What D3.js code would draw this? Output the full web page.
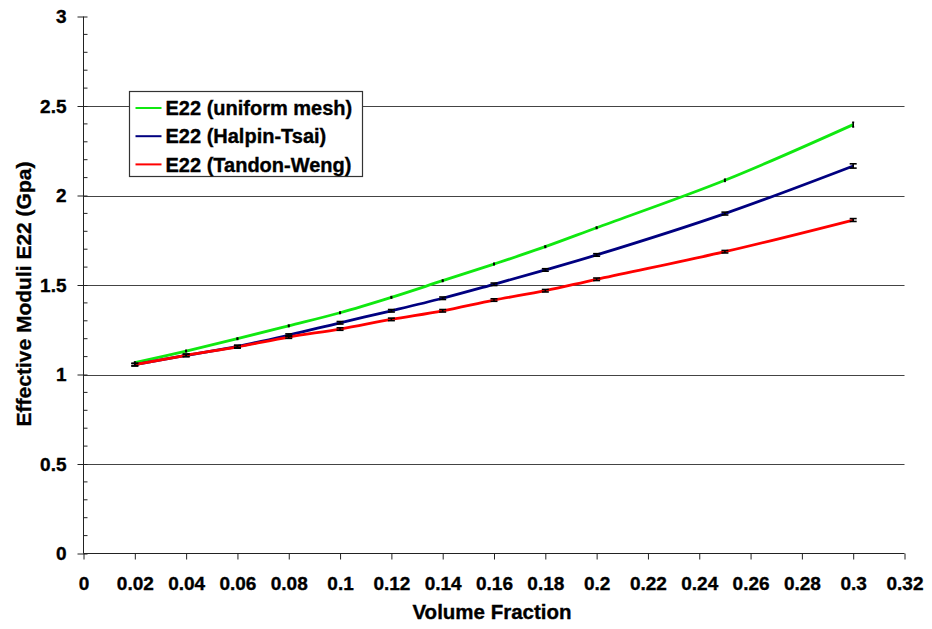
<!DOCTYPE html>
<html>
<head>
<meta charset="utf-8">
<script src="https://cdn.jsdelivr.net/npm/d3@7"></script>
<style>
  body { margin: 0; background: #fff; }
  svg text { font-family: "Liberation Sans", Arial, sans-serif; font-weight: bold; fill: #000;
             stroke: #000; stroke-width: 0.35px; }
</style>
</head>
<body>
<svg id="chart" width="932" height="629"></svg>
<script>
// Volume fraction of reinforcement
const volumeFraction = [0.02, 0.04, 0.06, 0.08, 0.1, 0.12, 0.14, 0.16, 0.18, 0.2, 0.25, 0.3];

// Effective transverse modulus E22 (GPa)
const e22Uniform = [1.066, 1.131, 1.200, 1.272, 1.345, 1.431, 1.524, 1.617, 1.714, 1.820, 2.085, 2.396];
const e22Halpin  = [1.055, 1.107, 1.157, 1.220, 1.289, 1.356, 1.426, 1.504, 1.584, 1.668, 1.899, 2.165];
const e22Tandon  = [1.055, 1.107, 1.154, 1.209, 1.254, 1.308, 1.356, 1.416, 1.468, 1.532, 1.686, 1.863];

// Error bar half-widths
const errUniform = [0.004, 0.004, 0.004, 0.004, 0.004, 0.004, 0.004, 0.004, 0.004, 0.004, 0.006, 0.013];
const errHalpin  = [0.007, 0.007, 0.007, 0.007, 0.007, 0.007, 0.007, 0.007, 0.007, 0.007, 0.008, 0.012];
const errTandon  = [0.007, 0.007, 0.007, 0.007, 0.007, 0.007, 0.007, 0.007, 0.007, 0.007, 0.007, 0.008];

const seriesNames = ["E22 (uniform mesh)", "E22 (Halpin-Tsai)", "E22 (Tandon-Weng)"];

const xTicks = [0, 0.02, 0.04, 0.06, 0.08, 0.1, 0.12, 0.14, 0.16, 0.18, 0.2, 0.22, 0.24, 0.26, 0.28, 0.3, 0.32];
const xTickLabels = ["0", "0.02", "0.04", "0.06", "0.08", "0.1", "0.12", "0.14", "0.16", "0.18", "0.2", "0.22", "0.24", "0.26", "0.28", "0.3", "0.32"];
const yTicks = [0, 0.5, 1, 1.5, 2, 2.5, 3];
const yTickLabels = ["0", "0.5", "1", "1.5", "2", "2.5", "3"];
const yMinorTicks = d3.range(0, 31).map(i => i / 10).filter(v => !yTicks.some(t => Math.abs(t - v) < 1e-9));

const series = [
  { name: seriesNames[0], values: e22Uniform, err: errUniform, color: "#10e810", cap: 1 },
  { name: seriesNames[1], values: e22Halpin,  err: errHalpin,  color: "#000080", cap: 3.5 },
  { name: seriesNames[2], values: e22Tandon,  err: errTandon,  color: "#ff0000", cap: 3.5 }
];

const svg = d3.select("#chart");

const x = d3.scaleLinear().domain([0, 0.32]).range([83.5, 904.5]);
const y = d3.scaleLinear().domain([0, 3]).range([553.5, 16.5]);

// Horizontal gridlines
svg.append("g")
  .selectAll("line")
  .data(yTicks.filter(v => v > 0 && v < 3))
  .join("line")
  .attr("x1", x(0)).attr("x2", x(0.32))
  .attr("y1", d => Math.round(y(d)) + 0.5).attr("y2", d => Math.round(y(d)) + 0.5)
  .attr("stroke", "#444").attr("stroke-width", 1.2);

// Y axis
const yAxis = svg.append("g")
  .attr("transform", `translate(${x(0)},0)`)
  .call(d3.axisLeft(y).tickValues(yTicks).tickFormat((d, i) => yTickLabels[i]).tickSize(6).tickPadding(11));
yAxis.selectAll(".tick line").attr("x2", -6).attr("x1", 4);
yAxis.select(".domain").attr("d", `M0,${y(3)}V${y(0)}`);
yAxis.selectAll(".tick text").style("font-size", "19px");
yAxis.append("g")
  .selectAll("line")
  .data(yMinorTicks)
  .join("line")
  .attr("x1", 0).attr("x2", 4)
  .attr("y1", d => y(d)).attr("y2", d => y(d))
  .attr("stroke", "#222");
yAxis.selectAll("path, line").attr("stroke", "#222");

// X axis
const xAxis = svg.append("g")
  .attr("transform", `translate(0,${y(0)})`)
  .call(d3.axisBottom(x).tickValues(xTicks).tickFormat((d, i) => xTickLabels[i]).tickSize(6).tickPadding(17));
xAxis.select(".domain").attr("d", `M${x(0)},0H${x(0.32)}`);
xAxis.selectAll(".tick text").style("font-size", "19px");
xAxis.selectAll("path, line").attr("stroke", "#222");

// Axis titles
svg.append("text")
  .attr("x", (x(0) + x(0.32)) / 2 - 2).attr("y", 619)
  .attr("text-anchor", "middle")
  .style("font-size", "20.5px")
  .text("Volume Fraction");

svg.append("text")
  .attr("transform", `translate(31,${294}) rotate(-90)`)
  .attr("text-anchor", "middle")
  .style("font-size", "21px")
  .text("Effective Moduli E22 (Gpa)");

// Curves
const line = d3.line()
  .x(d => x(d[0]))
  .y(d => y(d[1]))
  .curve(d3.curveCatmullRom.alpha(0.5));

series.forEach(s => {
  const pts = volumeFraction.map((v, i) => [v, s.values[i]]);
  svg.append("path")
    .datum(pts)
    .attr("d", line)
    .attr("fill", "none")
    .attr("stroke", s.color)
    .attr("stroke-width", 2.8);
});

// Error bars
series.forEach(s => {
  const g = svg.append("g").attr("stroke", "#000").attr("stroke-width", 1.6);
  volumeFraction.forEach((v, i) => {
    const cx = x(v);
    const y1 = y(s.values[i] + s.err[i]);
    const y2 = y(s.values[i] - s.err[i]);
    g.append("line").attr("x1", cx).attr("x2", cx).attr("y1", y1).attr("y2", y2);
    g.append("line").attr("x1", cx - s.cap).attr("x2", cx + s.cap).attr("y1", y1).attr("y2", y1);
    g.append("line").attr("x1", cx - s.cap).attr("x2", cx + s.cap).attr("y1", y2).attr("y2", y2);
  });
});

// Legend
const legend = svg.append("g").attr("transform", "translate(129.5,91.5)");
legend.append("rect")
  .attr("width", 233).attr("height", 85)
  .attr("fill", "#fff").attr("stroke", "#333").attr("stroke-width", 1.2);
series.forEach((s, i) => {
  const ly = 16.5 + i * 28.2;
  legend.append("line")
    .attr("x1", 6).attr("x2", 32).attr("y1", ly).attr("y2", ly)
    .attr("stroke", s.color).attr("stroke-width", 2);
  legend.append("text")
    .attr("x", 36).attr("y", ly).attr("dy", "0.36em")
    .style("font-size", "20px")
    .text(s.name);
});
</script>
</body>
</html>
